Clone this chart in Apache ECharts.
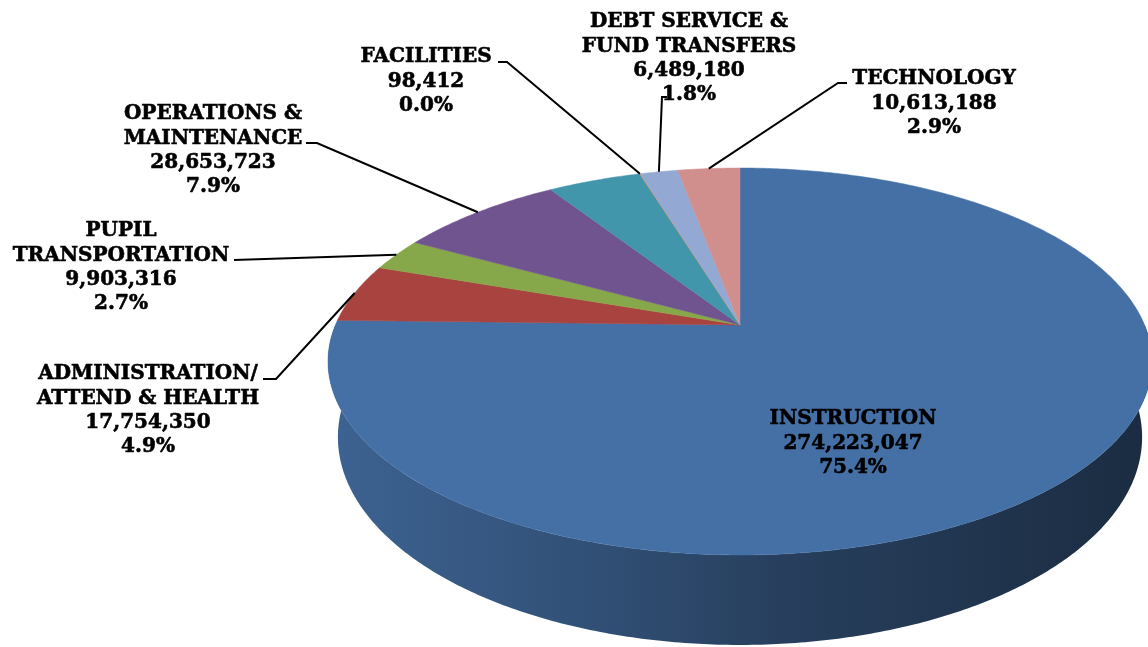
<!DOCTYPE html>
<html>
<head>
<meta charset="utf-8">
<title>Expenditures</title>
<script src="https://cdn.jsdelivr.net/npm/echarts@6/dist/echarts.min.js"></script>
<style>
    html, body { margin: 0; padding: 0; background: #fff; }
    #main { width: 1148px; height: 647px; }
</style>
</head>
<body>
<div id="main"></div>
<script type="text/javascript">
    // slices, clockwise from 12 o'clock
    var categories = ['INSTRUCTION', 'ADMINISTRATION/\nATTEND & HEALTH', 'PUPIL\nTRANSPORTATION', 'OPERATIONS &\nMAINTENANCE', '', 'FACILITIES', 'DEBT SERVICE &\nFUND TRANSFERS', 'TECHNOLOGY'];
    var amounts = [274223047, 17754350, 9903316, 28653723, 15960000, 98412, 6489180, 10613188];
    var showLabel = [true, true, true, true, false, true, true, true];
    var colors = ['#4570a6', '#a9433f', '#87a84a', '#705490', '#4296ac', '#e0883a', '#93a9d3', '#d08f8c'];

    // layout: label block (center x, top y) and leader line start points
    var labelAt = [[853, 407], [148, 362], [121, 219], [213, 102], null, [426, 45], [689, 10], [934, 67]];
    var leaderFrom = [null, [[263, 379], [276, 379]], [[234, 260]], [[306, 143], [317, 143]], null,
        [[498, 62], [507, 62]], [[667, 97], [662, 97]], [[847, 83], [838, 83]]];

    // 3d pie geometry (perspective ellipse)
    var CX = 740, CY = 325, RX = 404.6, RY = 186.6, K = 0.1886, DEPTH = 73, SHRINK = 0.976;

    var total = amounts.reduce(function (a, b) { return a + b; }, 0);
    var startAngle = [], sweep = [];
    var acc = 0;
    for (var i = 0; i < amounts.length; i++) {
        startAngle.push(acc / total * Math.PI * 2);
        sweep.push(amounts[i] / total * Math.PI * 2);
        acc += amounts[i];
    }

    function proj(t, r) {
        var u = r * Math.sin(t), v = r * Math.cos(t);
        var w = 1 + K * v;
        return [CX + RX * u / w, CY - RY * v / w];
    }
    function projBottom(t) {
        var p = proj(t, 1);
        var w = 1 + K * Math.cos(t);
        return [CX + (p[0] - CX) * SHRINK, p[1] + DEPTH / w];
    }
    function arc(a0, a1, fn) {
        var pts = [];
        var n = Math.max(2, Math.ceil((a1 - a0) / 0.01));
        for (var j = 0; j <= n; j++) pts.push(fn(a0 + (a1 - a0) * j / n));
        return pts;
    }
    function shade(hex, f) {
        var c = parseInt(hex.slice(1), 16);
        var r = Math.round((c >> 16 & 255) * f), g = Math.round((c >> 8 & 255) * f), b = Math.round((c & 255) * f);
        return 'rgb(' + r + ',' + g + ',' + b + ')';
    }
    function fmt(v) {
        return v.toString().replace(/\B(?=(\d{3})+(?!\d))/g, ',');
    }

    function renderSide(params, api) {
        var i = params.dataIndex;
        var a0 = Math.max(startAngle[i], Math.PI / 2);
        var a1 = Math.min(startAngle[i] + sweep[i], Math.PI * 1.5);
        if (a1 <= a0) return null;
        var top = arc(a0, a1, function (t) { return proj(t, 1); });
        var bot = arc(a0, a1, projBottom).reverse();
        var c = colors[i];
        return {
            type: 'polygon',
            shape: { points: top.concat(bot) },
            style: {
                fill: {
                    type: 'linear', x: CX - RX * 1.02, y: 0, x2: CX + RX * 1.02, y2: 0, global: true,
                    colorStops: [
                        { offset: 0, color: shade(c, 0.88) },
                        { offset: 0.3, color: shade(c, 0.72) },
                        { offset: 0.55, color: shade(c, 0.56) },
                        { offset: 1, color: shade(c, 0.39) }
                    ]
                }
            }
        };
    }

    function renderTop(params, api) {
        var i = params.dataIndex;
        var pts = [[CX, CY]].concat(arc(startAngle[i], startAngle[i] + sweep[i], function (t) { return proj(t, 1); }));
        return {
            type: 'polygon',
            shape: { points: pts },
            style: { fill: colors[i], stroke: colors[i], lineWidth: 0.5 }
        };
    }

    function renderLabel(params, api) {
        var i = params.dataIndex;
        if (!showLabel[i]) return null;
        var v = api.value(0);
        var txt = categories[i] + '\n' + fmt(v) + '\n' + (v / total * 100).toFixed(1) + '%';
        var children = [{
            type: 'text',
            style: {
                text: txt, x: labelAt[i][0], y: labelAt[i][1],
                align: 'center', verticalAlign: 'top',
                fontFamily: '"DejaVu Serif", serif', fontWeight: 'bold', fontSize: 20, lineHeight: 24.3,
                fill: '#000', stroke: '#000', lineWidth: 0.6
            }
        }];
        if (leaderFrom[i]) {
            var end = proj(startAngle[i] + sweep[i] / 2, 1);
            children.push({
                type: 'polyline',
                shape: { points: leaderFrom[i].concat([end]) },
                style: { stroke: '#000', lineWidth: 2, fill: null }
            });
        }
        return { type: 'group', children: children };
    }

    var dom = document.getElementById('main');
    var myChart = echarts.init(dom, null, { renderer: 'canvas' });
    var option = {
        animation: false,
        backgroundColor: '#fff',
        series: [
            { type: 'custom', name: 'side', coordinateSystem: 'none', renderItem: renderSide, data: amounts, z: 1 },
            { type: 'custom', name: 'top', coordinateSystem: 'none', renderItem: renderTop, data: amounts, z: 2 },
            { type: 'custom', name: 'labels', coordinateSystem: 'none', renderItem: renderLabel, data: amounts, z: 3 }
        ]
    };
    myChart.setOption(option, true);
</script>
</body>
</html>
